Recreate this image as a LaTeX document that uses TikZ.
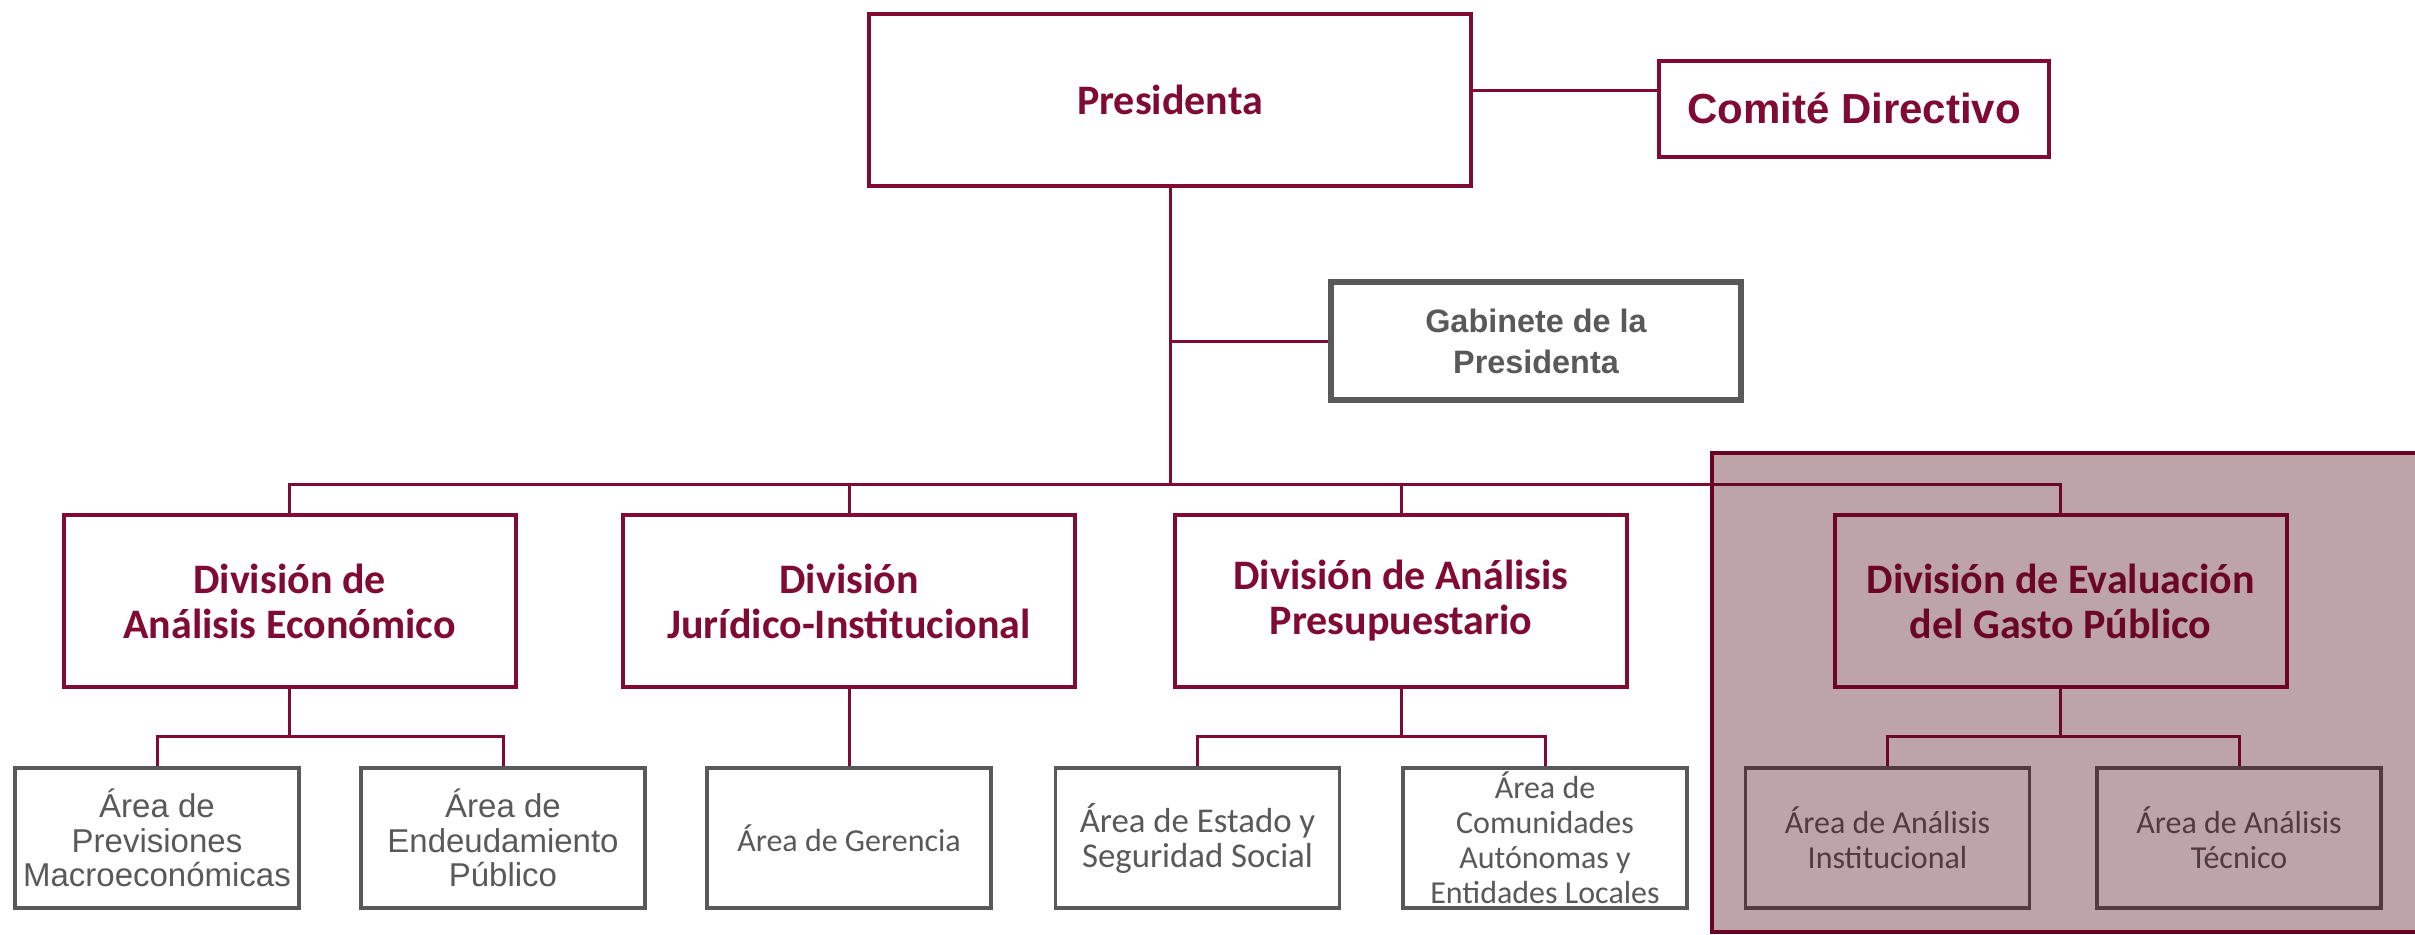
\documentclass[tikz,border=0pt]{standalone}
\usepackage{fontspec}
\setmainfont{Carlito}
\newfontfamily\arialf{Liberation Sans}
\usetikzlibrary{calc}
\definecolor{aired}{RGB}{128,10,48}
\definecolor{grayt}{RGB}{89,89,89}
\definecolor{ovl}{RGB}{70,4,17}
\definecolor{ovlborder}{RGB}{108,2,34}
\tikzset{
  conn/.style={draw=aired, line width=1.5pt},
  presbox/.style={draw=aired, line width=2pt, fill=white, inner sep=0pt, align=center, text=aired,
    minimum width=301pt, minimum height=86pt, font=\fontsize{21}{23}\selectfont\bfseries},
  combox/.style={draw=aired, line width=2pt, fill=white, inner sep=0pt, align=center, text=aired,
    minimum width=195pt, minimum height=48pt, font=\arialf\fontsize{21}{23}\selectfont\bfseries},
  gabbox/.style={draw=grayt, line width=2.75pt, fill=white, inner sep=0pt, align=center, text=grayt,
    minimum width=205pt, minimum height=59pt, font=\arialf\fontsize{16.2}{20.5}\selectfont\bfseries},
  divbox/.style={draw=aired, line width=2pt, fill=white, inner sep=0pt, align=center, text=aired,
    minimum width=226pt, minimum height=86pt, font=\fontsize{21}{22.5}\selectfont\bfseries},
  areabox/.style={draw=grayt, line width=1.75pt, fill=white, inner sep=0pt, align=center, text=grayt,
    minimum width=142pt, minimum height=70pt, font=\fontsize{16}{17.5}\selectfont},
  areabig/.style={areabox, font=\fontsize{17.4}{17.5}\selectfont},
  areaarial/.style={areabox, font=\arialf\fontsize{16.5}{17.3}\selectfont},
}
\begin{document}
\begin{tikzpicture}[x=0.5pt,y=-0.5pt]
\useasboundingbox (0,0) rectangle (2415,934);
\clip (0,0) rectangle (2415,934);
\fill[white] (0,0) rectangle (2415,934);

% top level
\node[presbox] (pres) at (1170,100) {Presidenta};
\node[combox] (com) at (1854,108.5) {Comité Directivo};
\node[gabbox] (gab) at (1536,341) {Gabinete de la\\Presidenta};

% divisions
\node[divbox] (d1) at (289.5,601) {División de\\Análisis Económico};
\node[divbox] (d2) at (849,601) {División\\Jurídico-Institucional};
\node[divbox] (d3) at (1401,601) {División de Análisis\\Presupuestario};
\node[divbox] (d4) at (2060.5,601) {División de Evaluación\\del Gasto Público};

% areas
\node[areaarial] (a1) at (157,838) {Área de\\Previsiones\\Macroeconómicas};
\node[areaarial] (a2) at (503,838) {Área de\\Endeudamiento\\Público};
\node[areabox] (a3) at (849,838) {Área de Gerencia};
\node[areabig] (a4) at (1197.5,838) {Área de Estado y\\Seguridad Social};
\node[areabox] (a5) at (1545,838) {Área de\\Comunidades\\Autónomas y\\Entidades Locales};
\node[areabox] (a6) at (1887.5,838) {Área de Análisis\\Institucional};
\node[areabox] (a7) at (2239,838) {Área de Análisis\\Técnico};

% connectors
\coordinate (bus) at (0,484);
\coordinate (sb) at (0,736);
\coordinate (pc) at ($(pres.east)+(0,-10)$);
\draw[conn] (pc) -- (pc -| com.west);
\draw[conn] (pres.south) -- (pres.south |- bus);
\draw[conn] (gab.west) -- (gab.west -| pres.south);
\draw[conn] (d1.north) -- (d1.north |- bus) -- (d4.north |- bus) -- (d4.north);
\draw[conn] (d2.north) -- (d2.north |- bus);
\draw[conn] (d3.north) -- (d3.north |- bus);

\draw[conn] (d1.south) -- (d1.south |- sb);
\draw[conn] (a1.north) -- (a1.north |- sb) -- (a2.north |- sb) -- (a2.north);
\draw[conn] (d2.south) -- (a3.north);
\draw[conn] (d3.south) -- (d3.south |- sb);
\draw[conn] (a4.north) -- (a4.north |- sb) -- (a5.north |- sb) -- (a5.north);
\draw[conn] (d4.south) -- (d4.south |- sb);
\draw[conn] (a6.north) -- (a6.north |- sb) -- (a7.north |- sb) -- (a7.north);

% highlighted overlay
\path[fill=ovl, fill opacity=0.36, draw=ovlborder, line width=2.25pt] (1712,453) rectangle (2460,932);
\end{tikzpicture}
\end{document}
